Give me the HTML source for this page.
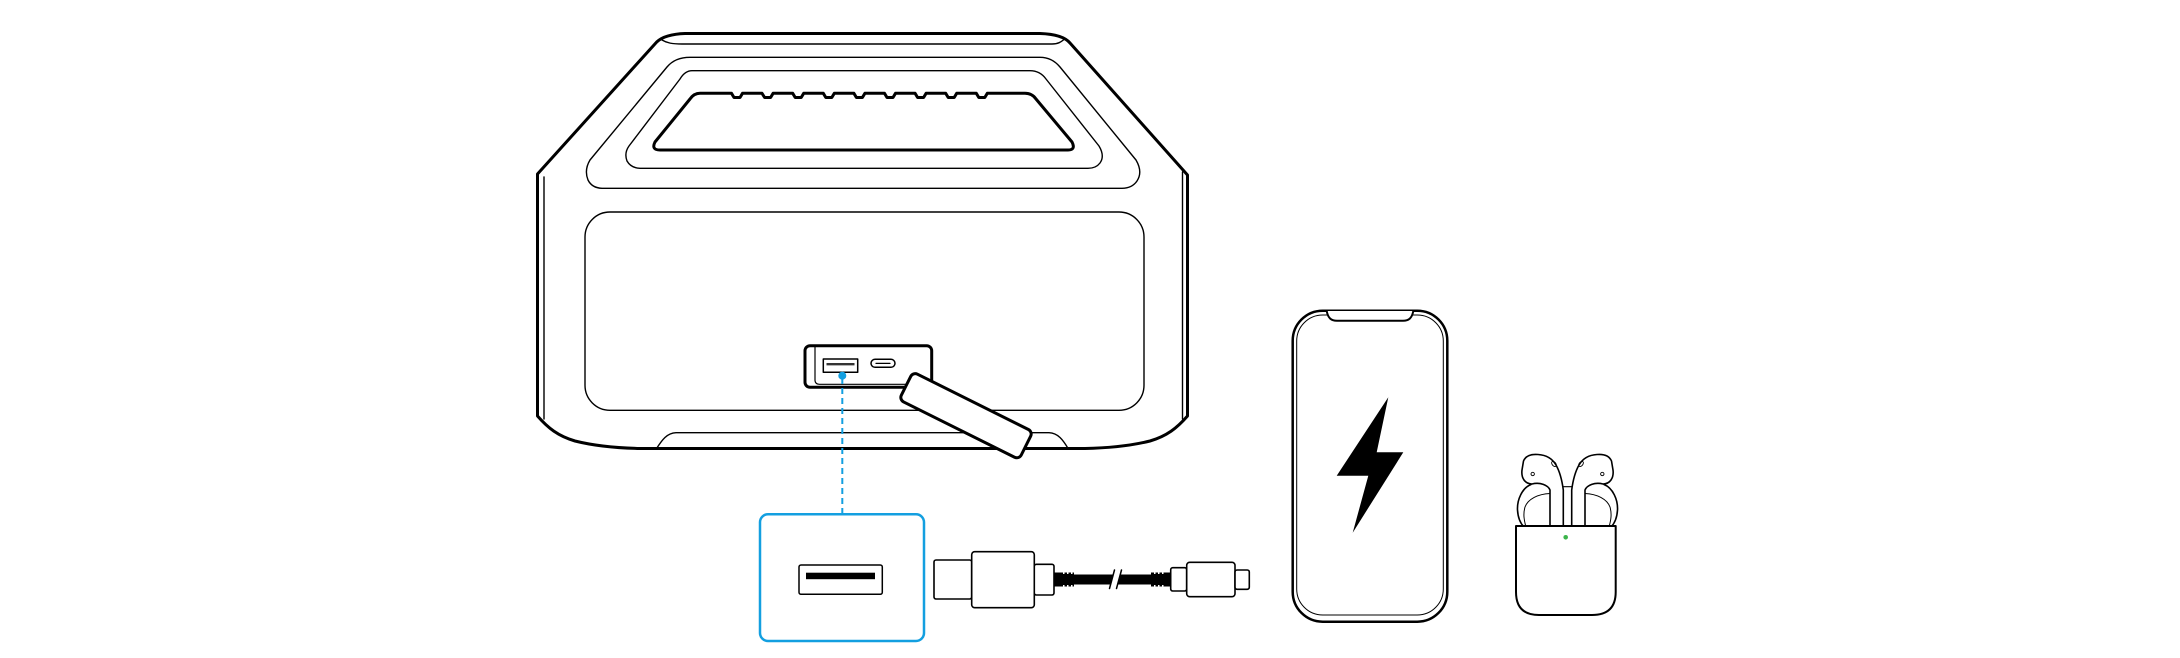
<!DOCTYPE html>
<html>
<head>
<meta charset="utf-8">
<style>
html,body{margin:0;padding:0;background:#fff;}
body{width:2180px;height:658px;overflow:hidden;}
svg{display:block;}
</style>
</head>
<body>
<svg width="2180" height="658" viewBox="0 0 2180 658" xmlns="http://www.w3.org/2000/svg">
<rect x="0" y="0" width="2180" height="658" fill="#fff"/>
<g fill="none" stroke="#000" stroke-linejoin="round" stroke-linecap="round">
  <!-- speaker outer -->
  <path d="M537.5,174 L537.5,416 C548,428 558,436 575,441 C595,446 615,448 640,448.5 L1085,448.5 C1110,448 1130,446 1150,441 C1167,436 1177,428 1187.5,416 L1187.5,175 L1070,43 C1065,37 1055,34 1040,33.5 L685,33.5 C670,34 662,37 656.7,42 Z" stroke-width="3"/>
  <!-- side inner lines -->
  <path d="M544,177 L544,419" stroke-width="1.4"/>
  <path d="M1182.5,172 L1182.5,419" stroke-width="1.4"/>
  <!-- cap inner line -->
  <path d="M662,40 C667,43 672,44 682,44 L1052,44 C1058,44 1061,42 1064,39.5" stroke-width="1.4"/>
  <!-- handle outer ring -->
  <path d="M690,57.3 L1040,57.3 Q1052,57.3 1060,67 L1136,160 Q1143,172 1137,181 Q1132,188.3 1122,188.3 L602,188.3 Q592,188 588,180 Q584,170 590,160 L667,67 Q675,57.3 690,57.3 Z" stroke-width="1.4"/>
  <!-- handle inner ring -->
  <path d="M692,70.7 L1030,70.7 Q1040,70.7 1046,79 L1099,146 Q1105,156 1100,163 Q1096,168.3 1088,168.3 L640,168.3 Q631,168 627,161 Q624,153 629,146 L680,79 Q685,70.7 692,70.7 Z" stroke-width="1.4"/>
  <!-- handle hole -->
  <path d="M700,93.3 L731.5,93.3 L734,97.5 L740,97.5 L742.5,93.3 L762,93.3 L764.6,97.5 L770.6,97.5 L773.1,93.3 L792.7,93.3 L795.2,97.5 L801.2,97.5 L803.7,93.3 L823.3,93.3 L825.8,97.5 L831.8,97.5 L834.3,93.3 L853.9,93.3 L856.4,97.5 L862.4,97.5 L864.9,93.3 L884.5,93.3 L887,97.5 L893,97.5 L895.5,93.3 L915.1,93.3 L917.6,97.5 L923.6,97.5 L926.1,93.3 L945.7,93.3 L948.2,97.5 L954.2,97.5 L956.7,93.3 L976.3,93.3 L978.8,97.5 L984.8,97.5 L987.3,93.3 L1025,93.3 Q1032,93.3 1036,99 L1072,142 Q1076,150 1068,150 L660,150 Q651,150 655,142 L690,99 Q694,93.3 700,93.3 Z" stroke-width="3"/>
  <!-- grill panel -->
  <rect x="585" y="212" width="559" height="198.3" rx="25" ry="25" stroke-width="1.4"/>
  <!-- foot -->
  <path d="M656.7,448.3 C662,440 667,433 676,432.7 L1049,432.7 C1058,433 1063,440 1068,448.3" stroke-width="1.4"/>
  <!-- port panel -->
  <rect x="805" y="345.7" width="126.7" height="41.6" rx="5" ry="5" fill="#fff" stroke-width="3"/>
  <path d="M815,347 L815,380 Q815,384.3 819.5,384.3 L930,384.3" stroke-width="1.2"/>
  <rect x="823.3" y="359" width="34.4" height="13.3" stroke-width="1.5"/>
  <line x1="826.5" y1="364.2" x2="854.5" y2="364.2" stroke="#333" stroke-width="2.4" stroke-linecap="butt"/>
  <rect x="871" y="359.3" width="24" height="8" rx="4" ry="4" stroke-width="1.5"/>
  <line x1="876" y1="363.4" x2="890" y2="363.4" stroke-width="1.2"/>
  <!-- dashed connector -->
  <line x1="842.3" y1="378" x2="842.3" y2="514" stroke="#139fe0" stroke-width="2" stroke-dasharray="6 4" stroke-linecap="butt"/>
  <!-- tab -->
  <rect x="899" y="400.2" width="134" height="31" rx="5" ry="5" fill="#fff" stroke-width="3" transform="rotate(26.5 966 415.7)"/>
  <!-- blue callout box -->
  <rect x="760" y="514.3" width="164" height="126.7" rx="8" ry="8" stroke="#139fe0" stroke-width="2.5"/>
  <rect x="799" y="565" width="83.3" height="29.3" rx="2" ry="2" stroke-width="1.5"/>
  <!-- cable: USB-A plug -->
  <rect x="934" y="560" width="37.7" height="39" rx="2" ry="2" stroke-width="1.6" fill="#fff"/>
  <rect x="971.7" y="551.7" width="62.6" height="56" rx="3" ry="3" stroke-width="1.6" fill="#fff"/>
  <rect x="1034.3" y="564.3" width="19.7" height="30.7" rx="2" ry="2" stroke-width="1.6" fill="#fff"/>
  <!-- cable: USB-C plug -->
  <rect x="1170.7" y="567.7" width="16" height="23.3" rx="2" ry="2" stroke-width="1.6" fill="#fff"/>
  <rect x="1186.7" y="562.3" width="48.3" height="34.4" rx="3" ry="3" stroke-width="1.6" fill="#fff"/>
  <rect x="1235" y="570" width="14.3" height="19.3" rx="2" ry="2" stroke-width="1.6" fill="#fff"/>
  <!-- phone -->
  <rect x="1292.7" y="310.7" width="154.6" height="311" rx="30" ry="30" stroke-width="2.5"/>
  <rect x="1296.7" y="315" width="146.6" height="300" rx="26" ry="26" stroke-width="1"/>
  <path d="M1326.7,311 C1328,318 1331,320.7 1337,320.7 L1403,320.7 C1409,320.7 1412,318 1413.3,311" fill="#fff" stroke-width="2"/>
</g>
<!-- usb bar -->
<rect x="806" y="572.7" width="69" height="6.5" fill="#000"/>
<!-- blue dot -->
<circle cx="842.3" cy="375.7" r="4" fill="#139fe0"/>
<!-- cable body -->
<polygon points="1054,574.5 1113.5,574.5 1110.8,584.5 1054,584.5" fill="#000"/>
<polygon points="1120.8,574.5 1171,574.5 1171,584.5 1118,584.5" fill="#000"/>
<rect x="1054" y="572.5" width="20" height="14" fill="#000"/>
<rect x="1151" y="572.5" width="20" height="14" fill="#000"/>
<g fill="#fff">
  <rect x="1063" y="572.5" width="1.5" height="1.5"/><rect x="1067" y="572.5" width="1.5" height="1.5"/><rect x="1071" y="572.5" width="1.5" height="1.5"/>
  <rect x="1063" y="585" width="1.5" height="1.5"/><rect x="1067" y="585" width="1.5" height="1.5"/><rect x="1071" y="585" width="1.5" height="1.5"/>
  <rect x="1154" y="572.5" width="1.5" height="1.5"/><rect x="1158" y="572.5" width="1.5" height="1.5"/><rect x="1162" y="572.5" width="1.5" height="1.5"/>
  <rect x="1154" y="585" width="1.5" height="1.5"/><rect x="1158" y="585" width="1.5" height="1.5"/><rect x="1162" y="585" width="1.5" height="1.5"/>
</g>
<g stroke="#000" stroke-width="1.5" stroke-linecap="round">
  <line x1="1109.5" y1="588.5" x2="1114.5" y2="570"/>
  <line x1="1116.5" y1="588.5" x2="1121.5" y2="570"/>
</g>
<!-- bolt -->
<polygon points="1388.3,397.3 1336.7,475.7 1368.3,475.7 1352.7,532.7 1403.3,452.3 1376.7,452.3" fill="#000"/>
<!-- earbuds -->
<g fill="none" stroke="#000" stroke-linejoin="round" stroke-linecap="round">
  <g id="bud">
    <path d="M1550,527 L1550,490 C1548,485 1540,482 1532,484 C1525,484 1521,478 1522,470 L1523.5,461 C1526,455 1532,454 1538,454.5 C1546,455 1552,458 1556,465 C1560,472 1562,480 1563.3,490 L1563.3,527" stroke-width="1.6" fill="#fff"/>
    <path d="M1531,484.5 C1522,488 1517,500 1517.5,510 C1518,518 1520,523 1524,527" stroke-width="1.6"/>
    <path d="M1550,493.5 C1538,494 1528,499 1525,507 C1523,514 1524,520 1526,527" stroke-width="1"/>
    <circle cx="1532.7" cy="474" r="1.7" stroke-width="0.9"/>
    <ellipse cx="1554" cy="464" rx="3" ry="1.8" transform="rotate(50 1554 464)" stroke-width="0.9"/>
  </g>
  <g transform="translate(3135,0) scale(-1,1)">
    <path d="M1550,527 L1550,490 C1548,485 1540,482 1532,484 C1525,484 1521,478 1522,470 L1523.5,461 C1526,455 1532,454 1538,454.5 C1546,455 1552,458 1556,465 C1560,472 1562,480 1563.3,490 L1563.3,527" stroke-width="1.6" fill="#fff"/>
    <path d="M1531,484.5 C1522,488 1517,500 1517.5,510 C1518,518 1520,523 1524,527" stroke-width="1.6"/>
    <path d="M1550,493.5 C1538,494 1528,499 1525,507 C1523,514 1524,520 1526,527" stroke-width="1"/>
    <circle cx="1532.7" cy="474" r="1.7" stroke-width="0.9"/>
    <ellipse cx="1554" cy="464" rx="3" ry="1.8" transform="rotate(50 1554 464)" stroke-width="0.9"/>
  </g>
  <line x1="1563.3" y1="486.7" x2="1571.7" y2="486.7" stroke-width="1.2"/>
  <path d="M1516,526 L1615.7,526 L1615.7,592 Q1615.7,615 1592,615 L1539,615 Q1516,615 1516,592 Z" stroke-width="2" fill="#fff"/>
</g>
<circle cx="1565.7" cy="537.3" r="2.3" fill="#3cb44b"/>
</svg>
</body>
</html>
